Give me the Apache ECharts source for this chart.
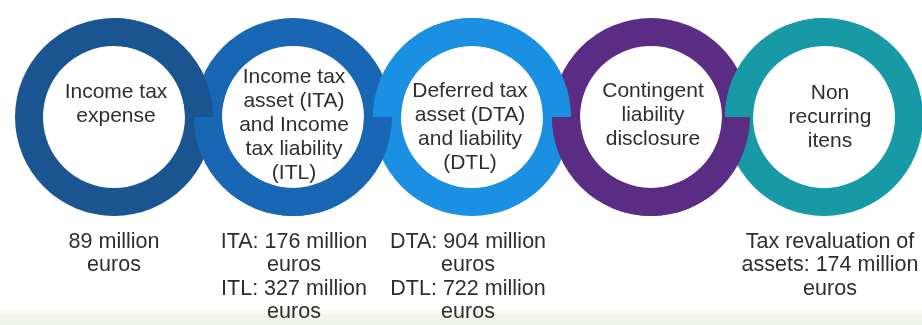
<!DOCTYPE html>
<html>
<head>
<meta charset="utf-8">
<script src="https://cdn.jsdelivr.net/npm/echarts@6/dist/echarts.min.js"></script>
<style>
html,body{margin:0;padding:0;background:#ffffff;}
#chart{width:922px;height:325px;}
</style>
</head>
<body>
<div id="chart"></div>
<script>
// ---- data ----
const ringTitles = [
  'Income tax\nexpense',
  'Income tax\nasset (ITA)\nand Income\ntax liability\n(ITL)',
  'Deferred tax\nasset (DTA)\nand liability\n(DTL)',
  'Contingent\nliability\ndisclosure',
  'Non\nrecurring\nitens'
];
const ringNotes = [
  '89 million\neuros',
  'ITA: 176 million\neuros\nITL: 327 million\neuros',
  'DTA: 904 million\neuros\nDTL: 722 million\neuros',
  '',
  'Tax revaluation of\nassets: 174 million\neuros'
];
const ringWeights = [1, 1, 1, 1, 1];

// ---- layout / style ----
const ringColors = ['#1b5591', '#1866b4', '#1b8fe2', '#5b2c84', '#1799a6'];
const centersX = [114, 293, 472, 651, 824];
const centerY = 117;
const radius = [71, 99];
const titleX = [116, 294, 470, 653, 830];
const titleY = [104, 125, 127, 115, 117];
const noteX = [114, 294, 468, 651, 830];
const noteTop = 230;
const font = '"Liberation Sans", Arial, sans-serif';

// overlays: [ringIndex, startAngle] quarter arcs that sit on top in overlaps
const overlays = [
  [0, 90],   // ring1 upper-right over ring2
  [1, 270],  // ring2 lower-left over ring1
  [2, 180],  // ring3 upper-left over ring2
  [1, 0],    // ring2 lower-right over ring3
  [2, 90],   // ring3 upper-right over ring4
  [3, 270],  // ring4 lower-left over ring3
  [4, 180],  // ring5 upper-left over ring4
  [3, 0]     // ring4 lower-right over ring5
];

const noBorder = {borderWidth: 0, borderColor: 'rgba(0,0,0,0)'};
const series = [];
ringWeights.forEach((w, i) => {
  series.push({
    type: 'pie', silent: true, z: 2, padAngle: 0,
    center: [centersX[i], centerY], radius: radius,
    label: {show: false}, labelLine: {show: false},
    itemStyle: noBorder,
    data: [{value: w, name: ringTitles[i], itemStyle: {color: ringColors[i]}}]
  });
});
overlays.forEach(([i, start]) => {
  series.push({
    type: 'pie', silent: true, z: 3, padAngle: 0,
    center: [centersX[i], centerY], radius: radius,
    startAngle: start, clockwise: true,
    label: {show: false}, labelLine: {show: false},
    itemStyle: noBorder,
    data: [
      {value: ringWeights[i], itemStyle: {color: ringColors[i]}},
      {value: ringWeights[i] * 3, itemStyle: {color: 'rgba(0,0,0,0)'}}
    ]
  });
});

const graphics = [
  {type: 'rect', z: 0, shape: {x: 0, y: 308, width: 922, height: 17},
   style: {fill: new echarts.graphic.LinearGradient(0, 0, 0, 1, [
     {offset: 0, color: '#ffffff'}, {offset: 0.4, color: '#f1f5ee'}, {offset: 1, color: '#eef3ea'}])}}
];
ringTitles.forEach((t, i) => {
  graphics.push({
    type: 'text', z: 10, x: titleX[i], y: titleY[i],
    style: {text: t, fill: '#2e2e2e', font: '21px ' + font, align: 'center', verticalAlign: 'middle', lineHeight: 24}
  });
  if (ringNotes[i]) {
    graphics.push({
      type: 'text', z: 10, x: noteX[i], y: noteTop,
      style: {text: ringNotes[i], fill: '#2e2e2e', font: '21.5px ' + font, align: 'center', verticalAlign: 'top', lineHeight: 23.5}
    });
  }
});

const chart = echarts.init(document.getElementById('chart'), null, {renderer: 'canvas'});
chart.setOption({
  animation: false,
  backgroundColor: '#ffffff',
  series: series,
  graphic: graphics
});
</script>
</body>
</html>
